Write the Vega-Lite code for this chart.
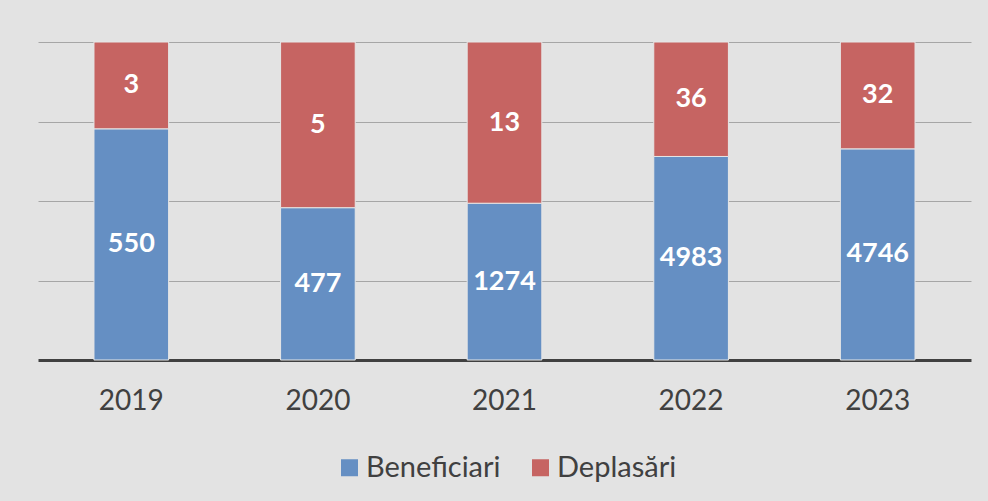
{
  "$schema": "https://vega.github.io/schema/vega-lite/v6.json",
  "width": 933,
  "height": 318,
  "padding": {"left": 38, "top": 41, "right": 17, "bottom": 30},
  "background": "#e3e3e3",
  "config": {
    "view": {"stroke": null},
    "font": "Lato"
  },
  "data": {
    "values": [
      {"year": "2019", "series": "Beneficiari", "share": 0.727, "value": 550},
      {"year": "2019", "series": "Deplasări", "share": 0.273, "value": 3},
      {"year": "2020", "series": "Beneficiari", "share": 0.479, "value": 477},
      {"year": "2020", "series": "Deplasări", "share": 0.521, "value": 5},
      {"year": "2021", "series": "Beneficiari", "share": 0.493, "value": 1274},
      {"year": "2021", "series": "Deplasări", "share": 0.507, "value": 13},
      {"year": "2022", "series": "Beneficiari", "share": 0.640, "value": 4983},
      {"year": "2022", "series": "Deplasări", "share": 0.360, "value": 36},
      {"year": "2023", "series": "Beneficiari", "share": 0.664, "value": 4746},
      {"year": "2023", "series": "Deplasări", "share": 0.336, "value": 32}
    ]
  },
  "transform": [
    {"stack": "share", "groupby": ["year"], "sort": [{"field": "series", "order": "ascending"}], "as": ["y0", "y1"]},
    {"calculate": "(datum.y0 + datum.y1) / 2", "as": "mid"}
  ],
  "encoding": {
    "x": {
      "field": "year",
      "type": "nominal",
      "title": null,
      "scale": {"paddingInner": 0.6, "paddingOuter": 0.3},
      "axis": {
        "labelAngle": 0,
        "labelFont": "Lato",
        "labelFontSize": 28,
        "labelColor": "#404040",
        "labelPadding": 27,
        "ticks": false,
        "domainColor": "#404040",
        "domainWidth": 3,
        "grid": false
      }
    }
  },
  "layer": [
    {
      "mark": {"type": "bar", "stroke": "#e6e6e6", "strokeWidth": 1},
      "encoding": {
        "y": {
          "field": "y0",
          "type": "quantitative",
          "scale": {"domain": [0, 1], "nice": false},
          "axis": {
            "title": null,
            "labels": false,
            "ticks": false,
            "domain": false,
            "values": [0.25, 0.5, 0.75, 1],
            "gridColor": "#a6a6a6",
            "gridWidth": 1
          }
        },
        "y2": {"field": "y1"},
        "color": {
          "field": "series",
          "type": "nominal",
          "scale": {"domain": ["Beneficiari", "Deplasări"], "range": ["#658fc3", "#c66462"]},
          "legend": {
            "title": null,
            "orient": "none",
            "direction": "horizontal",
            "legendX": 297,
            "legendY": 411,
            "symbolType": "square",
            "symbolSize": 289,
            "symbolStrokeWidth": 0,
            "labelFont": "Lato",
            "labelFontSize": 29,
            "labelColor": "#404040",
            "labelOffset": 2,
            "columnPadding": 25,
            "padding": 0
          }
        }
      }
    },
    {
      "mark": {"type": "text", "font": "Lato", "fontWeight": "bold", "fontSize": 27, "color": "white", "baseline": "middle"},
      "encoding": {
        "y": {"field": "mid", "type": "quantitative"},
        "text": {"field": "value", "type": "nominal"}
      }
    }
  ]
}
